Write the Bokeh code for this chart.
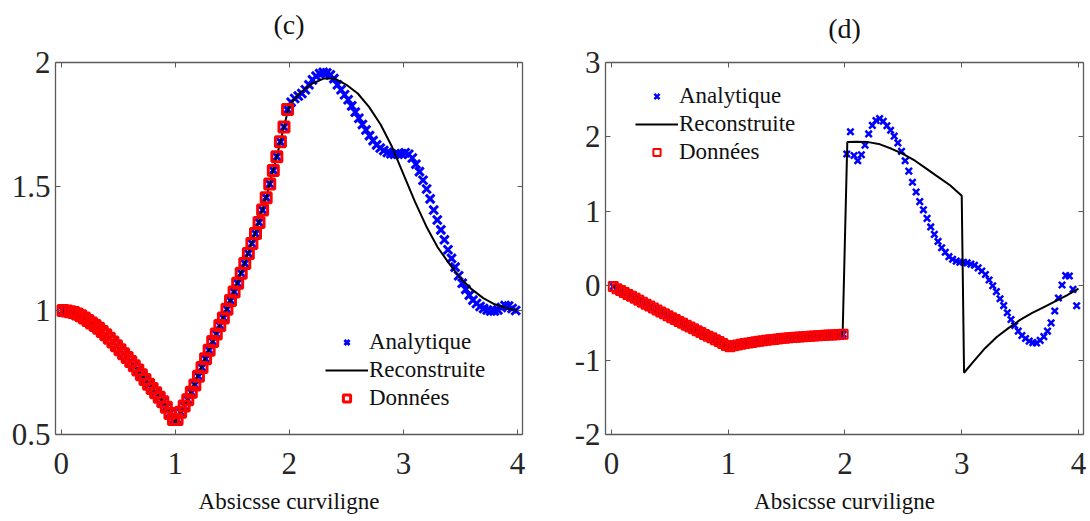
import numpy as np
from bokeh.plotting import figure
from bokeh.models import (Range1d, FixedTicker, LinearAxis, CustomJSTickFormatter,
                          Legend, LegendItem)
from bokeh.layouts import row
from bokeh.embed import file_html
from bokeh.resources import INLINE

# ---------------- data ----------------
# sample abscissae: 64 points on [0,2] (data) and 64 on [2,4]
x_data = (np.arange(64) + 0.5) / 32.0
x_tail = 2.0 + (np.arange(64) + 0.5) / 32.0

# panel (c)
donnees_c = [1.000, 0.998, 0.995, 0.992, 0.986, 0.979, 0.970, 0.960, 0.950, 0.940,
             0.928, 0.915, 0.902, 0.888, 0.873, 0.858, 0.842, 0.826, 0.810, 0.794,
             0.777, 0.760, 0.741, 0.722, 0.703, 0.685, 0.668, 0.650, 0.632, 0.610,
             0.585, 0.560, 0.560, 0.590, 0.615, 0.640, 0.670, 0.700, 0.735, 0.770,
             0.805, 0.840, 0.875, 0.905, 0.940, 0.970, 1.005, 1.040, 1.075, 1.110,
             1.150, 1.190, 1.230, 1.270, 1.310, 1.355, 1.405, 1.455, 1.510, 1.565,
             1.620, 1.680, 1.740, 1.810]
analytique_c_tail = [1.840, 1.855, 1.865, 1.875, 1.890, 1.910, 1.930, 1.945, 1.955, 1.960,
                     1.958, 1.950, 1.935, 1.910, 1.890, 1.870, 1.850, 1.825, 1.800, 1.775,
                     1.750, 1.728, 1.705, 1.685, 1.668, 1.655, 1.645, 1.637, 1.632, 1.630,
                     1.630, 1.632, 1.636, 1.630, 1.615, 1.590, 1.560, 1.525, 1.490, 1.450,
                     1.405, 1.365, 1.325, 1.285, 1.245, 1.210, 1.175, 1.140, 1.110, 1.085,
                     1.062, 1.042, 1.028, 1.016, 1.008, 1.002, 0.998, 0.998, 1.002, 1.012,
                     1.020, 1.018, 1.008, 1.000]
recon_c_x = np.linspace(0.0, 4.0, 41)
recon_c = [1.000, 0.993, 0.970, 0.940, 0.900, 0.850, 0.800, 0.740, 0.690, 0.630,
           0.550, 0.635, 0.740, 0.845, 0.950, 1.060, 1.180, 1.310, 1.460, 1.640,
           1.830, 1.880, 1.915, 1.935, 1.935, 1.910, 1.875, 1.820, 1.750, 1.660,
           1.550, 1.440, 1.340, 1.255, 1.190, 1.130, 1.085, 1.050, 1.025, 1.010,
           1.000]

# panel (d)
donnees_d = [-0.010, -0.040, -0.065, -0.090, -0.117, -0.143, -0.170, -0.195, -0.222, -0.248,
             -0.274, -0.300, -0.326, -0.352, -0.378, -0.404, -0.430, -0.455, -0.480, -0.505,
             -0.530, -0.556, -0.580, -0.605, -0.630, -0.655, -0.678, -0.700, -0.725, -0.750,
             -0.777, -0.805, -0.822, -0.808, -0.797, -0.787, -0.778, -0.770, -0.762, -0.755,
             -0.748, -0.741, -0.734, -0.728, -0.722, -0.716, -0.711, -0.706, -0.701, -0.697,
             -0.693, -0.689, -0.685, -0.682, -0.679, -0.676, -0.673, -0.670, -0.667, -0.664,
             -0.661, -0.658, -0.655, -0.652]
analytique_d_tail = [1.77, 2.07, 1.75, 1.68, 1.76, 1.89, 2.04, 2.155, 2.22, 2.245,
                     2.21, 2.15, 2.09, 2.01, 1.92, 1.805, 1.68, 1.54, 1.39, 1.26,
                     1.13, 1.02, 0.905, 0.79, 0.69, 0.595, 0.51, 0.45, 0.39, 0.355,
                     0.33, 0.316, 0.315, 0.307, 0.29, 0.275, 0.24, 0.197, 0.15, 0.077,
                     0.0, -0.08, -0.175, -0.267, -0.363, -0.455, -0.535, -0.61, -0.67, -0.71,
                     -0.745, -0.765, -0.77, -0.735, -0.685, -0.61, -0.50, -0.34, -0.165, 0.01,
                     0.135, 0.13, -0.05, -0.27]
recon_d_x = [0.0, 0.25, 0.5, 0.75, 1.0, 1.25, 1.5, 1.75, 1.98, 2.02, 2.1, 2.2, 2.3, 2.4, 2.5,
             2.6, 2.7, 2.8, 2.9, 3.0, 3.02, 3.1, 3.2, 3.3, 3.4, 3.5, 3.6, 3.7, 3.8, 3.9, 4.0]
recon_d = [0.0, -0.21, -0.42, -0.63, -0.83, -0.755, -0.70, -0.665, -0.65, 1.93, 1.935,
           1.93, 1.90, 1.84, 1.77, 1.68, 1.57, 1.46, 1.35, 1.21, -1.17, -1.02, -0.84,
           -0.69, -0.57, -0.46, -0.37, -0.29, -0.21, -0.13, -0.04]

x_ticks = [0, 1, 2, 3, 4]
y_ticks_c = [0.5, 1, 1.5, 2]
y_ticks_d = [-2, -1, 0, 1, 2, 3]
legend_labels = ["Analytique", "Reconstruite", "Données"]
titles = ["(c)", "(d)"]
xlabel = "Absicsse curviligne"

FONT = "Liberation Serif"
AXC = "#5a5a5a"
H = 520


def style_axis(ax, ticks, labels=True):
    ax.ticker = FixedTicker(ticks=ticks)
    ax.major_tick_in = 5
    ax.major_tick_out = 0
    ax.minor_tick_in = 0
    ax.minor_tick_out = 0
    ax.axis_line_color = AXC
    ax.axis_line_width = 1.3
    ax.major_tick_line_color = AXC
    ax.major_tick_line_width = 1
    ax.major_label_text_font = FONT
    ax.major_label_text_color = "#262626"
    if labels:
        ax.formatter = CustomJSTickFormatter(code="return tick.toString();")
        ax.major_label_text_font_size = "31px"
    else:
        ax.formatter = CustomJSTickFormatter(code="return '';")
        ax.major_label_text_font_size = "1px"
        ax.major_label_standoff = 0


def panel(title, title_standoff, width, mbl, mbr, xr, yr, yticks, ana_y, don_y,
          rec_x, rec_y, leg_loc, bsize, blw, rsize, rlw):
    p = figure(width=width, height=H, x_range=Range1d(*xr), y_range=Range1d(*yr),
               output_backend="svg", toolbar_location=None,
               min_border_left=mbl, min_border_right=mbr,
               min_border_top=62, min_border_bottom=86)
    p.xgrid.visible = False
    p.ygrid.visible = False
    p.outline_line_color = None
    p.background_fill_color = "white"
    p.border_fill_color = "white"

    style_axis(p.xaxis[0], x_ticks)
    style_axis(p.yaxis[0], yticks)
    p.xaxis[0].major_label_standoff = 18
    p.yaxis[0].major_label_standoff = 5
    p.xaxis[0].axis_label = xlabel
    p.xaxis[0].axis_label_text_font = FONT
    p.xaxis[0].axis_label_text_font_size = "23px"
    p.xaxis[0].axis_label_text_font_style = "normal"
    p.xaxis[0].axis_label_text_color = "#111111"
    p.xaxis[0].axis_label_standoff = 12

    # top axis: ticks only, carries the panel title as its label
    top = LinearAxis()
    style_axis(top, x_ticks, labels=False)
    top.axis_label = title
    top.axis_label_text_font = FONT
    top.axis_label_text_font_size = "28px"
    top.axis_label_text_font_style = "normal"
    top.axis_label_text_color = "#111111"
    top.axis_label_standoff = title_standoff
    p.add_layout(top, "above")
    right = LinearAxis()
    style_axis(right, yticks, labels=False)
    p.add_layout(right, "right")

    ana_x = np.concatenate([x_data, x_tail])
    r_b = p.scatter(ana_x, list(don_y) + list(ana_y), marker="x", size=bsize,
                    line_color="#0000ff", line_width=blw)
    r_k = p.line(rec_x, rec_y, line_color="black", line_width=2)
    r_r = p.scatter(x_data, don_y, marker="square", size=rsize, line_color="#ff0000",
                    fill_color=None, line_width=rlw)

    leg = Legend(items=[LegendItem(label=legend_labels[0], renderers=[r_b]),
                        LegendItem(label=legend_labels[1], renderers=[r_k]),
                        LegendItem(label=legend_labels[2], renderers=[r_r])],
                 location=leg_loc)
    leg.label_text_font = FONT
    leg.label_text_font_size = "23px"
    leg.label_text_color = "#111111"
    leg.glyph_width = 43
    leg.glyph_height = 18
    leg.label_height = 28
    leg.label_standoff = 1
    leg.spacing = 0
    leg.padding = 0
    leg.margin = 0
    leg.border_line_color = None
    leg.background_fill_alpha = 0
    p.add_layout(leg)
    return p


p1 = panel(titles[0], 23, 565, 55, 43, (-0.05, 4.044), (0.5, 2.0), y_ticks_c,
           analytique_c_tail, donnees_c, recon_c_x, recon_c, (270, 22),
           12, 3, 10, 3)
p2 = panel(titles[1], 19, 524, 40, 6, (-0.051, 4.043), (-2.0, 3.0), y_ticks_d,
           analytique_d_tail, donnees_d, recon_d_x, recon_d, (30, 268),
           9, 2.5, 9, 2)

layout = row(p1, p2, spacing=0)
open("out.html", "w", encoding="utf-8").write(file_html(layout, INLINE))
